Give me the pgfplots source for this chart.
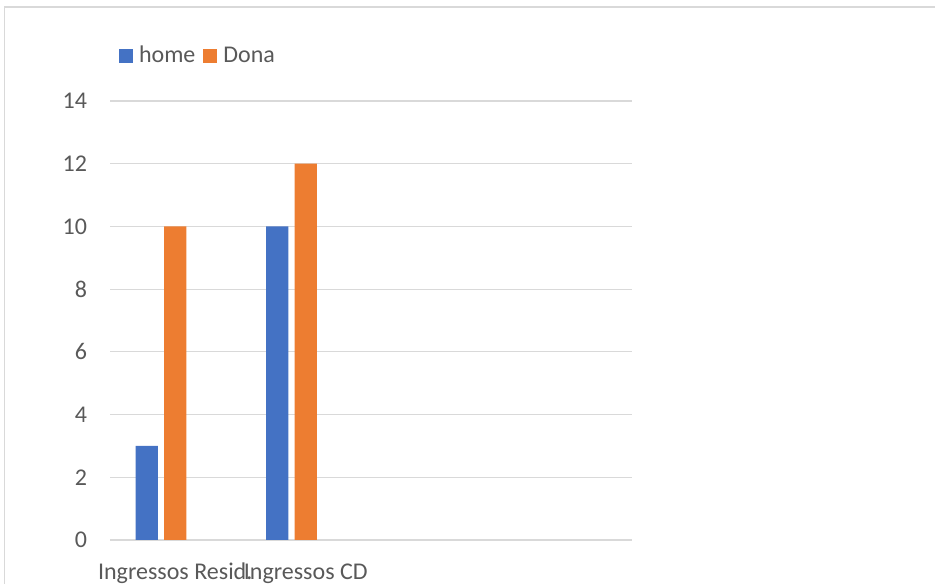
\documentclass[border=0pt]{standalone}
\usepackage{fontspec}
\setmainfont{Carlito}
\usepackage{pgfplots}
\pgfplotsset{compat=1.18}
\definecolor{cblue}{HTML}{4472C4}
\definecolor{corange}{HTML}{ED7D31}
\definecolor{cgrid}{HTML}{D9D9D9}
\definecolor{ctext}{HTML}{595959}
\begin{document}
\begin{tikzpicture}
\useasboundingbox (0pt,0pt) rectangle (701.25pt,438pt);
\draw[cgrid, line width=0.9pt] (3.5pt,0pt) -- (3.5pt,432.75pt) -- (701.25pt,432.75pt);
\begin{axis}[
  at={(82.5pt,33pt)}, anchor=south west,
  width=391.5pt, height=329.25pt, scale only axis,
  xmin=-0.5, xmax=3.5, ymin=0, ymax=14,
  ytick={0,2,...,14},
  xtick={0,1}, xticklabels={Ingressos Resid., Ingressos CD},
  major tick length=0pt,
  axis line style={draw=none},
  ymajorgrids, grid style={cgrid, line width=0.9pt},
  /pgf/number format/assume math mode=true,
  tick label style={font=\fontsize{18}{21}\selectfont, text=ctext},
  yticklabel style={anchor=east, inner sep=0pt, xshift=-17pt},
  xticklabel style={anchor=north, inner sep=0pt, yshift=-23pt, text height=0.65em, text depth=0.2em},
  legend style={at={(0.01724,1.1036)}, anchor=west, draw=none, fill=none,
    inner sep=0pt, outer sep=0pt, font=\fontsize{18}{21}\selectfont, text=ctext,
    nodes={inner sep=0pt},
    /tikz/every odd column/.append style={column sep=4.5pt},
    /tikz/every even column/.append style={column sep=6pt}},
  legend columns=-1, legend cell align=left,
]
\addplot[ybar, fill=cblue, draw=none, bar width=16.8pt, bar shift=-21.4pt,
  legend image code/.code={\fill[cblue] (0pt,-5.25pt) rectangle (10.5pt,5.25pt);}]
  coordinates {(0,3) (1,10)};
\addlegendentry{home}
\addplot[ybar, fill=corange, draw=none, bar width=16.8pt, bar shift=0pt,
  legend image code/.code={\fill[corange] (0pt,-5.25pt) rectangle (10.5pt,5.25pt);}]
  coordinates {(0,10) (1,12)};
\addlegendentry{Dona}
\end{axis}
\end{tikzpicture}
\end{document}
